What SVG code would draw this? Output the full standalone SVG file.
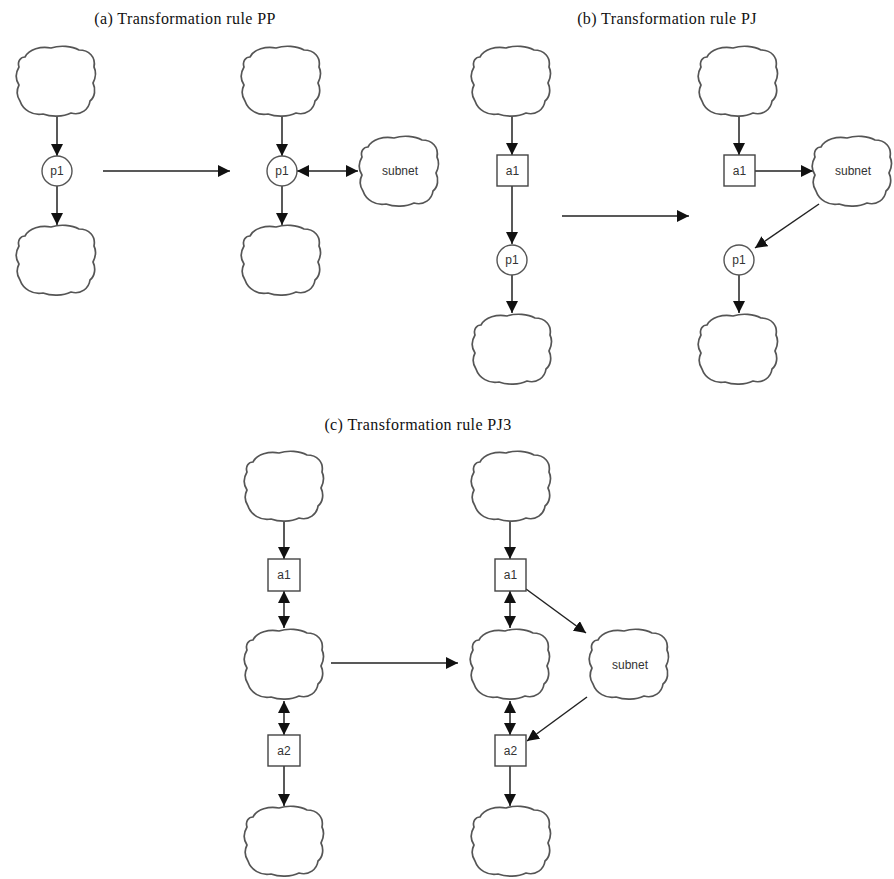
<svg xmlns="http://www.w3.org/2000/svg" xmlns:xlink="http://www.w3.org/1999/xlink" width="894" height="879" viewBox="0 0 894 879">
  <style>
    .title { font-family: "Liberation Serif", "DejaVu Serif", serif; font-size: 16px; fill: #111; text-anchor: middle; letter-spacing: 0.4px; }
    .lbl { font-family: "Liberation Sans", Arial, sans-serif; font-size: 12px; fill: #333; text-anchor: middle; dominant-baseline: central; }
    .cloud { fill: #fff; stroke: #555; stroke-width: 1.7; stroke-linejoin: round; }
    .place { fill: #fff; stroke: #555; stroke-width: 1.4; }
    .trans { fill: #fff; stroke: #444; stroke-width: 1.4; }
    .edge { fill: none; stroke: #222; stroke-width: 1.5; }
  </style>
  <defs>
    <!-- freehand cloud outline, 82 x 72 box -->
    <path id="cloud" d="M 10,12 C 14,4 26,1 36,3 C 45,0 57,1 64,5 C 74,5 81,12 79,22 C 82,28 80,34 78,38 C 81,44 80,52 75,56 C 74,64 66,71 56,68 C 48,72 36,72 28,69 C 18,71 8,65 5,56 C 1,50 2,44 4,40 C 0,34 1,27 4,22 C 2,16 6,12 10,12 Z"/>
    <marker id="ah" viewBox="0 0 10 10" refX="10" refY="5" markerWidth="12" markerHeight="12" markerUnits="userSpaceOnUse" orient="auto-start-reverse">
      <path d="M0,0 L10,5 L0,10 Z" fill="#111"/>
    </marker>
  </defs>

  <!-- Titles -->
  <text class="title" x="185" y="24">(a) Transformation rule PP</text>
  <text class="title" x="667" y="24">(b) Transformation rule PJ</text>
  <text class="title" x="418" y="430">(c) Transformation rule PJ3</text>

  <!-- Connectors -->
  <g id="connectors">
    <!-- (a) left -->
    <line class="edge" x1="57" y1="117" x2="57" y2="156" marker-end="url(#ah)"/>
    <line class="edge" x1="57" y1="186" x2="57" y2="225" marker-end="url(#ah)"/>
    <line class="edge" x1="103" y1="171" x2="230" y2="171" marker-end="url(#ah)"/>
    <!-- (a) right -->
    <line class="edge" x1="282" y1="117" x2="282" y2="156" marker-end="url(#ah)"/>
    <line class="edge" x1="282" y1="186" x2="282" y2="225" marker-end="url(#ah)"/>
    <line class="edge" x1="297" y1="171" x2="358" y2="171" marker-start="url(#ah)" marker-end="url(#ah)"/>
    <!-- (b) left -->
    <line class="edge" x1="512" y1="117" x2="512" y2="155" marker-end="url(#ah)"/>
    <line class="edge" x1="512" y1="186" x2="512" y2="244" marker-end="url(#ah)"/>
    <line class="edge" x1="512" y1="275" x2="512" y2="313" marker-end="url(#ah)"/>
    <line class="edge" x1="562" y1="216" x2="689" y2="216" marker-end="url(#ah)"/>
    <!-- (b) right -->
    <line class="edge" x1="739" y1="117" x2="739" y2="155" marker-end="url(#ah)"/>
    <line class="edge" x1="755" y1="171" x2="813" y2="171" marker-end="url(#ah)"/>
    <line class="edge" x1="819" y1="204" x2="755" y2="248" marker-end="url(#ah)"/>
    <line class="edge" x1="739" y1="275" x2="739" y2="313" marker-end="url(#ah)"/>
    <!-- (c) left -->
    <line class="edge" x1="284" y1="520" x2="284" y2="559" marker-end="url(#ah)"/>
    <line class="edge" x1="284" y1="591" x2="284" y2="628" marker-start="url(#ah)" marker-end="url(#ah)"/>
    <line class="edge" x1="284" y1="701" x2="284" y2="735" marker-start="url(#ah)" marker-end="url(#ah)"/>
    <line class="edge" x1="284" y1="766" x2="284" y2="806" marker-end="url(#ah)"/>
    <line class="edge" x1="331" y1="663" x2="458" y2="663" marker-end="url(#ah)"/>
    <!-- (c) right -->
    <line class="edge" x1="510" y1="520" x2="510" y2="559" marker-end="url(#ah)"/>
    <line class="edge" x1="510" y1="591" x2="510" y2="628" marker-start="url(#ah)" marker-end="url(#ah)"/>
    <line class="edge" x1="510" y1="701" x2="510" y2="735" marker-start="url(#ah)" marker-end="url(#ah)"/>
    <line class="edge" x1="510" y1="766" x2="510" y2="806" marker-end="url(#ah)"/>
    <line class="edge" x1="526" y1="589" x2="586" y2="633" marker-end="url(#ah)"/>
    <line class="edge" x1="587" y1="697" x2="527" y2="741" marker-end="url(#ah)"/>
  </g>

  <!-- (a) left -->
  <g id="a-net-top"><use href="#cloud" class="cloud" x="15" y="45"/></g>
  <g id="a-p1"><circle class="place" cx="57" cy="171" r="15"/><text class="lbl" x="57" y="171">p1</text></g>
  <g id="a-net-bottom"><use href="#cloud" class="cloud" x="15" y="224"/></g>

  <!-- (a) right -->
  <g id="a2-net-top"><use href="#cloud" class="cloud" x="240" y="45"/></g>
  <g id="a2-p1"><circle class="place" cx="282" cy="171" r="15"/><text class="lbl" x="282" y="171">p1</text></g>
  <g id="a2-subnet"><use href="#cloud" class="cloud" x="358" y="135"/><text class="lbl" x="400" y="171">subnet</text></g>
  <g id="a2-net-bottom"><use href="#cloud" class="cloud" x="240" y="224"/></g>

  <!-- (b) left -->
  <g id="b-net-top"><use href="#cloud" class="cloud" x="470" y="45"/></g>
  <g id="b-a1"><rect class="trans" x="497" y="155" width="31" height="31"/><text class="lbl" x="512.5" y="171">a1</text></g>
  <g id="b-p1"><circle class="place" cx="512" cy="260" r="15"/><text class="lbl" x="512" y="260">p1</text></g>
  <g id="b-net-bottom"><use href="#cloud" class="cloud" x="471" y="313"/></g>

  <!-- (b) right -->
  <g id="b2-net-top"><use href="#cloud" class="cloud" x="697" y="45"/></g>
  <g id="b2-a1"><rect class="trans" x="724" y="155" width="31" height="31"/><text class="lbl" x="739.5" y="171">a1</text></g>
  <g id="b2-subnet"><use href="#cloud" class="cloud" x="811" y="135"/><text class="lbl" x="853" y="171">subnet</text></g>
  <g id="b2-p1"><circle class="place" cx="739" cy="260" r="15"/><text class="lbl" x="739" y="260">p1</text></g>
  <g id="b2-net-bottom"><use href="#cloud" class="cloud" x="697" y="313"/></g>

  <!-- (c) left -->
  <g id="c-net-top"><use href="#cloud" class="cloud" x="243" y="450"/></g>
  <g id="c-a1"><rect class="trans" x="268" y="559" width="32" height="32"/><text class="lbl" x="284" y="575">a1</text></g>
  <g id="c-net-mid"><use href="#cloud" class="cloud" x="243" y="628"/></g>
  <g id="c-a2"><rect class="trans" x="268" y="735" width="32" height="31"/><text class="lbl" x="284" y="750.5">a2</text></g>
  <g id="c-net-bottom"><use href="#cloud" class="cloud" x="243" y="805"/></g>

  <!-- (c) right -->
  <g id="c2-net-top"><use href="#cloud" class="cloud" x="470" y="450"/></g>
  <g id="c2-a1"><rect class="trans" x="495" y="559" width="31" height="32"/><text class="lbl" x="510.5" y="575">a1</text></g>
  <g id="c2-net-mid"><use href="#cloud" class="cloud" x="469" y="628"/></g>
  <g id="c2-subnet"><use href="#cloud" class="cloud" x="588" y="628"/><text class="lbl" x="630" y="665">subnet</text></g>
  <g id="c2-a2"><rect class="trans" x="495" y="735" width="31" height="31"/><text class="lbl" x="510.5" y="750.5">a2</text></g>
  <g id="c2-net-bottom"><use href="#cloud" class="cloud" x="470" y="805"/></g>
</svg>
